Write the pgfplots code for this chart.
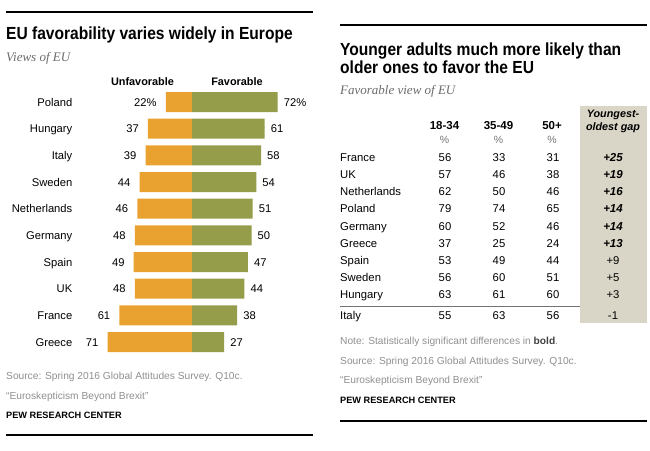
\documentclass[border=0pt]{standalone}
\usepackage{pgfplots}
\pgfplotsset{compat=1.18}
\usepackage{pgfplotstable}
\usepackage{fontspec}
\setmainfont{Liberation Sans}
\newfontfamily\titlefont{Liberation Sans}[FakeStretch=0.89]
\newfontfamily\subfont{Liberation Serif}
\definecolor{unfav}{HTML}{E9A22F}
\definecolor{fav}{HTML}{959D4A}
\definecolor{gapshade}{HTML}{DAD6C7}
\definecolor{srcgray}{HTML}{8F8F8F}
\definecolor{subgray}{HTML}{6B6B6B}

\pgfplotstableread{
country y a b c
France 157.2 56 33 31
UK 174.4 57 46 38
Netherlands 191.6 62 50 46
Poland 208.8 79 74 65
Germany 226.0 60 52 46
Greece 243.2 37 25 24
Spain 260.4 53 49 44
Sweden 277.6 56 60 51
Hungary 294.8 63 61 60
Italy 315.0 55 63 56
}\agetable

\begin{document}
\begin{tikzpicture}
\useasboundingbox (0,0) rectangle (650pt,-450pt);
% rules
\draw[line width=1.3pt] (6pt,-12pt) -- (313pt,-12pt);
\draw[line width=1.3pt] (6pt,-435pt) -- (313pt,-435pt);
\draw[line width=1.3pt] (340pt,-25pt) -- (647pt,-25pt);
\draw[line width=1.3pt] (340pt,-421pt) -- (647pt,-421pt);
% shaded gap column
\fill[gapshade] (580pt,-106pt) rectangle (647pt,-323pt);
\draw[black!55, line width=0.8pt] (340pt,-306pt) -- (580pt,-306pt);

% ---------- left panel texts ----------
\node[anchor=base west, inner sep=0pt, font=\titlefont\bfseries\fontsize{17.5}{20}\selectfont] at (6pt,-39.3pt) {EU favorability varies widely in Europe};
\node[anchor=base west, inner sep=0pt, text=subgray, font=\subfont\itshape\fontsize{13}{15}\selectfont] at (6pt,-61pt) {Views of EU};
\node[anchor=base, inner sep=0pt, font=\bfseries\fontsize{10.9}{12}\selectfont] at (142.5pt,-85.3pt) {Unfavorable};
\node[anchor=base, inner sep=0pt, font=\bfseries\fontsize{10.9}{12}\selectfont] at (237pt,-85.3pt) {Favorable};
\node[anchor=base west, inner sep=0pt, text=srcgray, font=\fontsize{10.2}{12}\selectfont] at (6pt,-379pt) {Source: Spring 2016 Global Attitudes Survey. Q10c.};
\node[anchor=base west, inner sep=0pt, text=srcgray, font=\fontsize{10.2}{12}\selectfont] at (6pt,-399pt) {“Euroskepticism Beyond Brexit”};
\node[anchor=base west, inner sep=0pt, font=\bfseries\fontsize{9.2}{11}\selectfont] at (6pt,-418pt) {PEW RESEARCH CENTER};

% ---------- right panel texts ----------
\node[anchor=base west, inner sep=0pt, font=\titlefont\bfseries\fontsize{17.5}{20}\selectfont] at (340pt,-55.5pt) {Younger adults much more likely than};
\node[anchor=base west, inner sep=0pt, font=\titlefont\bfseries\fontsize{17.5}{20}\selectfont] at (340pt,-73pt) {older ones to favor the EU};
\node[anchor=base west, inner sep=0pt, text=subgray, font=\subfont\itshape\fontsize{13}{15}\selectfont] at (340pt,-94pt) {Favorable view of EU};
\foreach \xx/\tt in {444.5/18-34, 498.5/35-49, 552/50+} {
  \node[anchor=base, inner sep=0pt, font=\bfseries\fontsize{11.5}{13}\selectfont] at (\xx pt,-129.3pt) {\tt};
  \node[anchor=base, inner sep=0pt, text=black!55, font=\fontsize{10.5}{12}\selectfont] at (\xx pt,-143.3pt) {\%};
}
\node[anchor=base, inner sep=0pt, font=\bfseries\itshape\fontsize{10.8}{12}\selectfont] at (613pt,-117pt) {Youngest-};
\node[anchor=base, inner sep=0pt, font=\bfseries\itshape\fontsize{10.8}{12}\selectfont] at (613pt,-130.5pt) {oldest gap};
\node[anchor=base west, inner sep=0pt, text=srcgray, font=\fontsize{10.2}{12}\selectfont] at (340pt,-344pt) {Note: Statistically significant differences in \textcolor{black!75}{\textbf{bold}}.};
\node[anchor=base west, inner sep=0pt, text=srcgray, font=\fontsize{10.2}{12}\selectfont] at (340pt,-364pt) {Source: Spring 2016 Global Attitudes Survey. Q10c.};
\node[anchor=base west, inner sep=0pt, text=srcgray, font=\fontsize{10.2}{12}\selectfont] at (340pt,-383.3pt) {“Euroskepticism Beyond Brexit”};
\node[anchor=base west, inner sep=0pt, font=\bfseries\fontsize{9.2}{11}\selectfont] at (340pt,-403.3pt) {PEW RESEARCH CENTER};

% ---------- left diverging bar chart ----------
\begin{axis}[
  at={(96.8pt,-88.67pt)}, anchor=north west,
  width=190.4pt, height=266.7pt, scale only axis,
  xmin=-80, xmax=80, ymin=-0.5, ymax=9.5, y dir=reverse,
  axis x line=none, axis y line*=left, y axis line style={draw=none},
  ytick={0,...,9},
  yticklabels={Poland,Hungary,Italy,Sweden,Netherlands,Germany,Spain,UK,France,Greece},
  major tick length=0pt,
  yticklabel style={font=\fontsize{11.2}{13}\selectfont, anchor=east, inner sep=0pt, text height=8pt, text depth=0pt, xshift=-24.3pt},
  xbar, bar width=20pt, bar shift=0pt,
  clip=false,
]
\addplot[draw=none, fill=unfav, nodes near coords, point meta=explicit symbolic,
  every node near coord/.append style={text=black, anchor=east, xshift=-9pt, inner sep=0pt, text height=8pt, text depth=0pt, font=\fontsize{11.2}{13}\selectfont}]
  coordinates {(-22,0)[22\%] (-37,1)[37] (-39,2)[39] (-44,3)[44] (-46,4)[46] (-48,5)[48] (-49,6)[49] (-48,7)[48] (-61,8)[61] (-71,9)[71]};
\addplot[draw=none, fill=fav, nodes near coords, point meta=explicit symbolic,
  every node near coord/.append style={text=black, anchor=west, xshift=6pt, inner sep=0pt, text height=8pt, text depth=0pt, font=\fontsize{11.2}{13}\selectfont}]
  coordinates {(72,0)[72\%] (61,1)[61] (58,2)[58] (54,3)[54] (51,4)[51] (50,5)[50] (47,6)[47] (44,7)[44] (38,8)[38] (27,9)[27]};
\end{axis}

% ---------- right table (pixel-unit axis) ----------
\begin{axis}[
  at={(0pt,0pt)}, anchor=north west,
  width=650pt, height=450pt, scale only axis,
  xmin=0, xmax=650, ymin=0, ymax=450, y dir=reverse,
  hide axis, clip=false,
  only marks, mark=*, mark size=0pt, mark options={draw=none, fill=none},
  nodes near coords, point meta=explicit symbolic,
  every node near coord/.append style={text=black, anchor=center, inner sep=0pt, text height=8pt, text depth=0pt, font=\fontsize{11.3}{13}\selectfont},
]
\addplot[every node near coord/.append style={anchor=west}] table[x expr=340, y=y, meta=country] {\agetable};
\addplot[black] table[x expr=445, y=y, meta=a] {\agetable};
\addplot[black] table[x expr=499, y=y, meta=b] {\agetable};
\addplot[black] table[x expr=553, y=y, meta=c] {\agetable};
\addplot[black, every node near coord/.append style={font=\bfseries\itshape\fontsize{11.5}{13}\selectfont}]
  coordinates {(613,157.2)[+25] (613,174.4)[+19] (613,191.6)[+16] (613,208.8)[+14] (613,226.0)[+14] (613,243.2)[+13]};
\addplot[black] coordinates {(613,260.4)[+9] (613,277.6)[+5] (613,294.8)[+3] (613,315.0)[-1]};
\end{axis}
\end{tikzpicture}
\end{document}
